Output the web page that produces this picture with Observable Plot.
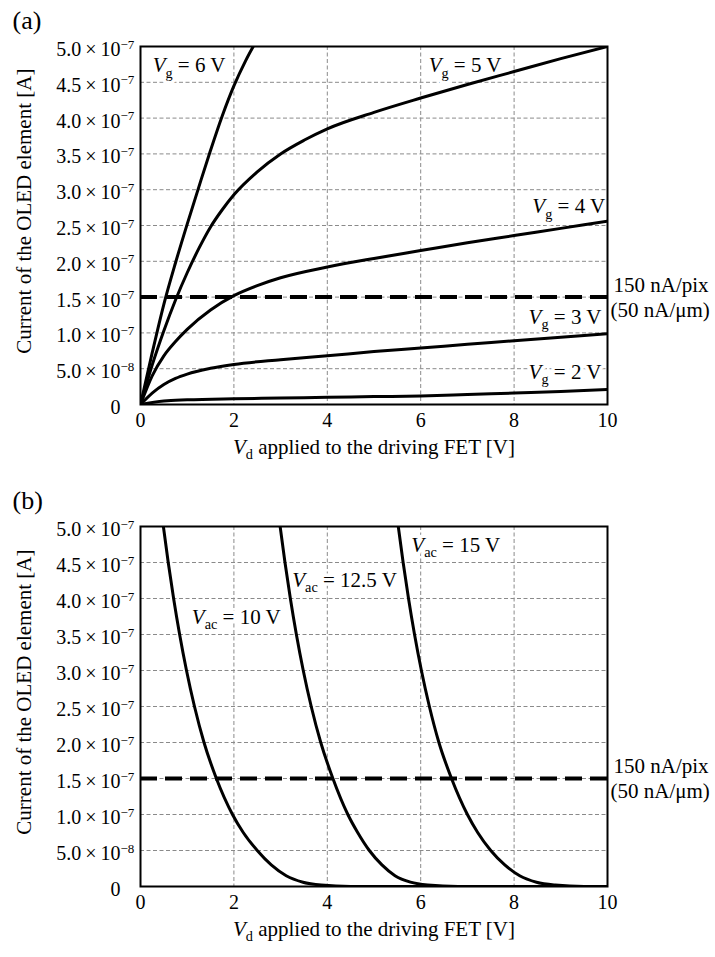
<!DOCTYPE html>
<html><head><meta charset="utf-8">
<script src="https://cdn.jsdelivr.net/npm/d3@7"></script>
<script src="https://cdn.jsdelivr.net/npm/@observablehq/plot@0.6"></script>
<style>
body{margin:0;background:#fff;}
#chart{width:715px;height:957px;position:relative;}
#chart svg{display:block;}
</style></head><body><div id="chart"></div>
<script>
// ---------- tick values ----------
const xTicks = [0, 2, 4, 6, 8, 10];
const yTicks = [0, 0.5e-7, 1.0e-7, 1.5e-7, 2.0e-7, 2.5e-7, 3.0e-7, 3.5e-7, 4.0e-7, 4.5e-7, 5.0e-7];
const thresholdCurrent = 1.5e-7;
const thresholdText1 = "150 nA/pix";
const thresholdText2 = "(50 nA/\u03bcm)";
const xTitle = "V_d applied to the driving FET [V]";
const yTitle = "Current of the OLED element [A]";

// ---------- panel (a): Vg series ----------
const vg6V = [0, 0.25, 0.5, 0.75, 1, 1.25, 1.5, 1.75, 2, 2.25, 2.5];
const vg6I = [0, 0.72e-7, 1.4e-7, 1.98e-7, 2.52e-7, 3.04e-7, 3.55e-7, 4.03e-7, 4.45e-7, 4.8e-7, 5.1e-7];
const vg5V = [0, 0.25, 0.5, 0.75, 1, 1.25, 1.5, 1.75, 2, 2.5, 3, 3.5, 4, 5, 6, 7, 8, 9, 10];
const vg5I = [0, 0.55e-7, 1.03e-7, 1.46e-7, 1.84e-7, 2.18e-7, 2.48e-7, 2.72e-7, 2.93e-7, 3.25e-7, 3.5e-7, 3.69e-7, 3.85e-7, 4.08e-7, 4.28e-7, 4.47e-7, 4.65e-7, 4.83e-7, 5.0e-7];
const vg4V = [0, 0.25, 0.5, 0.75, 1, 1.5, 2, 2.5, 3, 4, 5, 6, 7, 8, 9, 10];
const vg4I = [0, 0.4e-7, 0.68e-7, 0.88e-7, 1.05e-7, 1.32e-7, 1.52e-7, 1.66e-7, 1.77e-7, 1.92e-7, 2.04e-7, 2.15e-7, 2.26e-7, 2.36e-7, 2.46e-7, 2.56e-7];
const vg3V = [0, 0.25, 0.5, 0.75, 1, 1.5, 2, 3, 4, 5, 6, 7, 8, 9, 10];
const vg3I = [0, 0.16e-7, 0.28e-7, 0.365e-7, 0.425e-7, 0.505e-7, 0.56e-7, 0.625e-7, 0.68e-7, 0.74e-7, 0.79e-7, 0.84e-7, 0.89e-7, 0.94e-7, 0.99e-7];
const vg2V = [0, 0.5, 1, 2, 3, 4, 5, 6, 7, 8, 9, 10];
const vg2I = [0, 0.05e-7, 0.065e-7, 0.08e-7, 0.09e-7, 0.1e-7, 0.11e-7, 0.12e-7, 0.14e-7, 0.16e-7, 0.18e-7, 0.21e-7];

// ---------- panel (b): Vac series ----------
const vac10V  = [0.49, 0.594, 0.709, 0.838, 0.985, 1.156, 1.36, 1.625, 1.97, 2.2, 2.5, 2.8, 3.12, 3.48, 3.87, 4.5, 10];
const vac10I  = [5.0e-7, 4.5e-7, 4.0e-7, 3.5e-7, 3.0e-7, 2.5e-7, 2.0e-7, 1.5e-7, 1.0e-7, 0.75e-7, 0.5e-7, 0.3e-7, 0.15e-7, 0.06e-7, 0.02e-7, 0, 0];
const vac125V = [2.99, 3.094, 3.209, 3.338, 3.485, 3.656, 3.86, 4.12, 4.44, 4.65, 4.9, 5.17, 5.45, 5.78, 6.15, 6.8, 10];
const vac125I = [5.0e-7, 4.5e-7, 4.0e-7, 3.5e-7, 3.0e-7, 2.5e-7, 2.0e-7, 1.5e-7, 1.0e-7, 0.75e-7, 0.5e-7, 0.3e-7, 0.15e-7, 0.06e-7, 0.02e-7, 0, 0];
const vac15V  = [5.52, 5.624, 5.739, 5.868, 6.015, 6.186, 6.39, 6.66, 7.0, 7.22, 7.5, 7.8, 8.12, 8.48, 8.88, 9.5, 10];
const vac15I  = [5.0e-7, 4.5e-7, 4.0e-7, 3.5e-7, 3.0e-7, 2.5e-7, 2.0e-7, 1.5e-7, 1.0e-7, 0.75e-7, 0.5e-7, 0.3e-7, 0.15e-7, 0.06e-7, 0.02e-7, 0, 0];

// ---------- curve labels (anchor in data units) ----------
const labelsA = [
  {t: "V_g = 6 V", x: 0.26, y: 4.637e-7},
  {t: "V_g = 5 V", x: 6.17, y: 4.637e-7},
  {t: "V_g = 4 V", x: 8.39, y: 2.668e-7},
  {t: "V_g = 3 V", x: 8.31, y: 1.131e-7},
  {t: "V_g = 2 V", x: 8.31, y: 0.363e-7}
];
const labelsB = [
  {t: "V_ac = 10 V",   x: 1.10, y: 3.649e-7},
  {t: "V_ac = 12.5 V", x: 3.25, y: 4.157e-7},
  {t: "V_ac = 15 V",   x: 5.80, y: 4.643e-7}
];

const FONT = "'Liberation Serif','Times New Roman',Times,serif";

function expOf(v) { return Math.floor(Math.log10(v) + 1e-9); }
function yMant(v) {
  if (v === 0) return "0";
  const e = expOf(v);
  return (v / Math.pow(10, e)).toFixed(1) + "\u2009\u00d7\u200910";
}
function yExp(v) {
  if (v === 0) return "";
  return "\u2212" + Math.abs(expOf(v));
}

function toRows(list) {
  return list.flatMap(s => s.V.map((v, i) => ({x: v, y: s.I[i], k: s.name})));
}

function panel({rows, labels, tag, height, marginTop, marginBottom}) {
  return Plot.plot({
    width: 715, height, marginLeft: 140, marginRight: 108, marginTop, marginBottom,
    style: {fontFamily: FONT, fontSize: "20px", color: "black", background: "white", overflow: "visible"},
    x: {domain: [0, 10], axis: null},
    y: {domain: [0, 5e-7], axis: null},
    marks: [
      Plot.ruleX(xTicks.slice(1, -1), {stroke: "#8a8a8a", strokeWidth: 1, strokeDasharray: "4,2.5"}),
      Plot.ruleY(yTicks.slice(1, -1), {stroke: "#8a8a8a", strokeWidth: 1, strokeDasharray: "4,2.5"}),
      Plot.text(labels, {x: "x", y: "y", text: "t", textAnchor: "start", lineAnchor: "bottom", fontSize: 21,
        fill: "black", stroke: "white", strokeWidth: 7}),
      Plot.line(rows, {x: "x", y: "y", z: "k", stroke: "black", strokeWidth: 3, curve: "monotone-x", clip: true}),
      Plot.ruleY([thresholdCurrent], {stroke: "black", strokeWidth: 4, strokeDasharray: "17,8"}),
      Plot.frame({stroke: "black", strokeWidth: 2}),
      Plot.text(yTicks, {y: d => d, text: yMant, frameAnchor: "left", textAnchor: "end", dx: -20, dy: 3, fontSize: 20}),
      Plot.text(yTicks, {y: d => d, text: yExp, frameAnchor: "left", textAnchor: "start", dx: -20, dy: -2, fontSize: 13}),
      Plot.text(xTicks, {x: d => d, text: d => String(d), frameAnchor: "bottom", dy: 22, fontSize: 20}),
      Plot.text([xTitle], {text: d => d, frameAnchor: "bottom", dy: 49, fontSize: 21}),
      Plot.text([yTitle], {x: () => -2.48, y: () => 2.7e-7, text: d => d, rotate: -90, fontSize: 21, lineAnchor: "middle", textAnchor: "middle"}),
      Plot.text([thresholdCurrent], {y: d => d, text: () => thresholdText1, frameAnchor: "right", textAnchor: "start", dx: 6, dy: -12, fontSize: 21}),
      Plot.text([thresholdCurrent], {y: d => d, text: () => thresholdText2, frameAnchor: "right", textAnchor: "start", dx: 3, dy: 13, fontSize: 21}),
      Plot.text([tag], {text: d => d, frameAnchor: "top-left", textAnchor: "start", lineAnchor: "middle", dx: -128, dy: -26, fontSize: 26})
    ]
  });
}

function richify(svg) {
  d3.select(svg).selectAll("text").each(function () {
    const t = this.textContent;
    const m = /^V_([a-z]+)(.*)$/.exec(t);
    if (!m) return;
    const fs = parseFloat(getComputedStyle(this).fontSize) || 21;
    const sel = d3.select(this);
    sel.text(null);
    sel.append("tspan").attr("font-style", "italic").text("V");
    sel.append("tspan").attr("font-size", fs * 0.68).attr("dy", fs * 0.24).text(m[1]);
    sel.append("tspan").attr("dy", -fs * 0.24).text(m[2]);
  });
}

const chart = document.getElementById("chart");
const svgA = panel({
  rows: toRows([
    {name: "6", V: vg6V, I: vg6I}, {name: "5", V: vg5V, I: vg5I}, {name: "4", V: vg4V, I: vg4I},
    {name: "3", V: vg3V, I: vg3I}, {name: "2", V: vg2V, I: vg2I}
  ]),
  labels: labelsA, tag: "(a)", height: 470, marginTop: 46, marginBottom: 66
});
const svgB = panel({
  rows: toRows([
    {name: "10", V: vac10V, I: vac10I}, {name: "12.5", V: vac125V, I: vac125I}, {name: "15", V: vac15V, I: vac15I}
  ]),
  labels: labelsB, tag: "(b)", height: 487, marginTop: 56, marginBottom: 71
});
chart.appendChild(svgA);
chart.appendChild(svgB);
richify(svgA);
richify(svgB);
</script>
</body></html>
